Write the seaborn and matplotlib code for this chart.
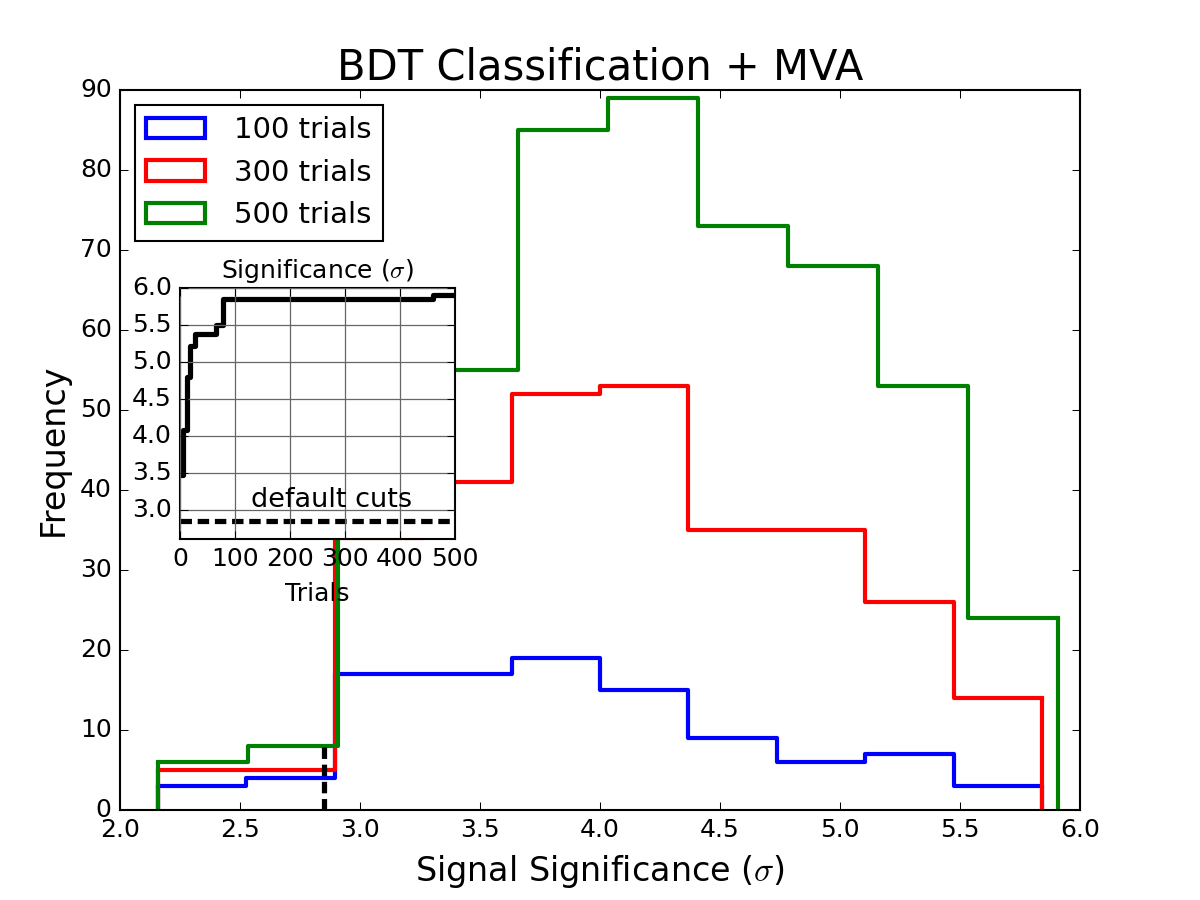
import numpy as np
import pandas as pd
import seaborn as sns
import matplotlib.pyplot as plt
from matplotlib.patches import Patch

# histogram bin edges (signal significance, sigma)
edges_100 = [2.158, 2.526, 2.895, 3.263, 3.632, 4.000, 4.368, 4.737, 5.105, 5.474, 5.842]
edges_300 = [2.158, 2.526, 2.895, 3.263, 3.632, 4.000, 4.368, 4.737, 5.105, 5.474, 5.842]
edges_500 = [2.158, 2.533, 2.908, 3.283, 3.658, 4.033, 4.408, 4.783, 5.158, 5.533, 5.908]

counts_100 = [3, 4, 17, 17, 19, 15, 9, 6, 7, 3]
counts_300 = [5, 5, 34, 41, 52, 53, 35, 35, 26, 14]
counts_500 = [6, 8, 39, 55, 85, 89, 73, 68, 53, 24]

labels = ['100 trials', '300 trials', '500 trials']
colors = ['b', 'r', 'g']

# best significance found vs number of trials (inset)
trials = [3, 5, 12, 19, 27, 65, 78, 460, 500]
best_sig = [3.47, 4.08, 4.80, 5.22, 5.38, 5.50, 5.85, 5.91, 5.91]
default_cut = 2.85

plt.style.use('classic')
plt.rcParams['mathtext.fontset'] = 'cm'
dash = (0, (5.5, 2.75))

fig = plt.figure(figsize=(8, 6), dpi=150, facecolor='white')
ax = fig.add_axes([0.1, 0.1, 0.8, 0.8])

for edges, counts, c in zip([edges_100, edges_300, edges_500],
                            [counts_100, counts_300, counts_500], colors):
    e = np.array(edges)
    df = pd.DataFrame({'sig': (e[:-1] + e[1:]) / 2, 'n': counts})
    sns.histplot(data=df, x='sig', weights='n', bins=list(edges), element='step',
                 fill=False, color=c, lw=2, ax=ax)
    # close the outline down to zero like a step histogram
    ax.vlines([edges[0], edges[-1]], 0, [counts[0], counts[-1]], color=c, lw=2)

ax.vlines(default_cut, 0, 8, color='k', lw=2.5, linestyles=dash)

ax.set_xlim(2.0, 6.0)
ax.set_ylim(0, 90)
ax.set_title('BDT Classification + MVA', fontsize=20)
ax.set_xlabel(r'Signal Significance ($\sigma$)', fontsize=16)
ax.set_ylabel('Frequency', fontsize=16)
ax.tick_params(labelsize=12)

handles = [Patch(facecolor='none', edgecolor=c, lw=2) for c in colors]
ax.legend(handles, labels, loc='upper left', fontsize=14, handletextpad=1.0)

# inset
axin = fig.add_axes([0.15, 0.401, 0.229, 0.279])
sns.lineplot(x=trials, y=best_sig, drawstyle='steps-post', color='k', lw=2.5, ax=axin)
axin.axhline(default_cut, color='k', lw=2.5, ls=dash)
axin.text(275, 3.04, 'default cuts', ha='center', va='baseline', fontsize=13)
axin.set_xlim(0, 500)
axin.set_ylim(2.6, 6.0)
axin.set_xticks(np.arange(0, 501, 100))
axin.set_yticks(np.arange(3.0, 6.01, 0.5))
axin.grid(True, color='0.4', ls='-', lw=0.6)
axin.set_title(r'Significance ($\sigma$)', fontsize=12)
axin.set_xlabel('Trials', fontsize=12)
axin.set_ylabel('')
axin.tick_params(labelsize=12)

plt.savefig('out.png', dpi=150, facecolor='white')
